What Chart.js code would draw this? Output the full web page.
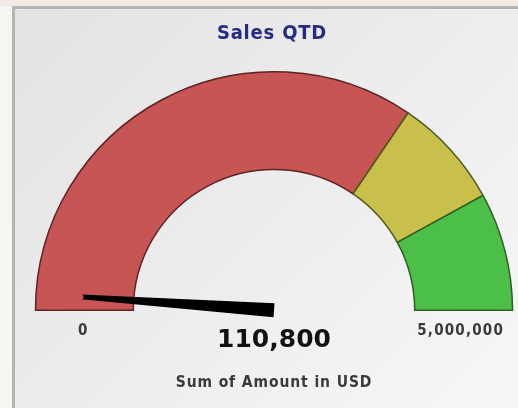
<!DOCTYPE html>
<html>
<head>
<meta charset="utf-8">
<script src="https://cdn.jsdelivr.net/npm/chart.js@4.4.1/dist/chart.umd.min.js"></script>
<style>
  html, body { margin: 0; padding: 0; width: 518px; height: 408px; overflow: hidden; background: #f7f5f1; }
  #topstrip { position: absolute; left: 0; top: 0; width: 518px; height: 6px; background: #f3e9e0; }
  #panel { position: absolute; left: 12px; top: 6px; width: 520px; height: 420px;
    border-left: 3px solid #b4b4b2; border-top: 3px solid #b4b4b2;
    background: linear-gradient(135deg, #e3e3e3 0%, #ececec 45%, #f8f8f8 100%); }
  #wrap { position: absolute; left: 0; top: 0; width: 518px; height: 408px; }
</style>
</head>
<body>
<div id="topstrip"></div>
<div id="panel"></div>
<div id="wrap"><canvas id="c" width="518" height="408"></canvas></div>
<script>
// ---- data ----
const chartTitle = 'Sales QTD';
const rangeNames = ['Low', 'Medium', 'High'];
const rangeWidths = [3450000, 750000, 800000];   // segment sizes, sum = gauge max
const gaugeMin = 0;
const gaugeMax = 5000000;
const needleValue = 110800;
const tickLabels = ['0', '5,000,000'];
const valueLabel = '110,800';
const measureLabel = 'Sum of Amount in USD';

const rangeColors = ['#c65553', '#c9bf4b', '#4cbf48'];
const rangeBorders = ['#5e2424', '#4d5a1f', '#2f5d22'];

const gaugeText = {
  id: 'gaugeText',
  afterDatasetsDraw(chart) {
    const ctx = chart.ctx;
    const arc = chart.getDatasetMeta(0).data[0];
    const cx = arc.x, cy = arc.y, R = arc.outerRadius, r = arc.innerRadius;
    // needle
    const frac = (needleValue - gaugeMin) / (gaugeMax - gaugeMin);
    const ang = Math.PI + Math.PI * frac;
    const len = R * 0.81;
    const ux = Math.cos(ang), uy = Math.sin(ang);
    const nx = -uy, ny = ux;
    const w0 = 7, w1 = 2.4;
    const tx = cx + ux * len, ty = cy + uy * len;
    ctx.save();
    ctx.fillStyle = '#000';
    ctx.beginPath();
    ctx.moveTo(cx + nx * w0, cy + ny * w0);
    ctx.lineTo(tx + nx * w1, ty + ny * w1);
    ctx.arc(tx, ty, w1, ang + Math.PI / 2, ang - Math.PI / 2 + 2 * Math.PI, false);
    ctx.lineTo(cx - nx * w0, cy - ny * w0);
    ctx.closePath();
    ctx.fill();
    // texts
    ctx.textAlign = 'center';
    ctx.textBaseline = 'middle';
    ctx.fillStyle = '#262b86';
    ctx.font = 'bold 20px "DejaVu Sans Condensed", "DejaVu Sans", sans-serif';
    ctx.letterSpacing = '0.8px';
    ctx.fillText(chartTitle, cx - 2, 34);
    ctx.fillStyle = '#3a3a3a';
    ctx.font = 'bold 15px "DejaVu Sans Condensed", "DejaVu Sans", sans-serif';
    ctx.letterSpacing = '1.2px';
    ctx.fillText(tickLabels[0], cx - (R + r) / 2 - 1, cy + 21);
    ctx.fillText(tickLabels[1], cx + (R + r) / 2 - 3, cy + 21);
    ctx.letterSpacing = '0px';
    ctx.fillStyle = '#111';
    ctx.font = 'bold 25px "DejaVu Sans", sans-serif';
    ctx.fillText(valueLabel, cx, cy + 30);
    ctx.fillStyle = '#3a3a3a';
    ctx.font = 'bold 15.5px "DejaVu Sans Condensed", "DejaVu Sans", sans-serif';
    ctx.letterSpacing = '0.9px';
    ctx.fillText(measureLabel, cx, cy + 73);
    ctx.letterSpacing = '0px';
    ctx.restore();
  }
};

new Chart(document.getElementById('c'), {
  type: 'doughnut',
  data: {
    labels: rangeNames,
    datasets: [{
      data: rangeWidths,
      backgroundColor: rangeColors,
      borderColor: rangeBorders,
      borderWidth: 1.5,
      borderJoinStyle: 'miter'
    }]
  },
  options: {
    responsive: false,
    animation: false,
    rotation: -90,
    circumference: 180,
    cutout: '59%',
    layout: { padding: { left: 34, right: 4, top: 71, bottom: 97 } },
    plugins: { legend: { display: false }, title: { display: false }, tooltip: { enabled: false } }
  },
  plugins: [gaugeText]
});
</script>
</body>
</html>
